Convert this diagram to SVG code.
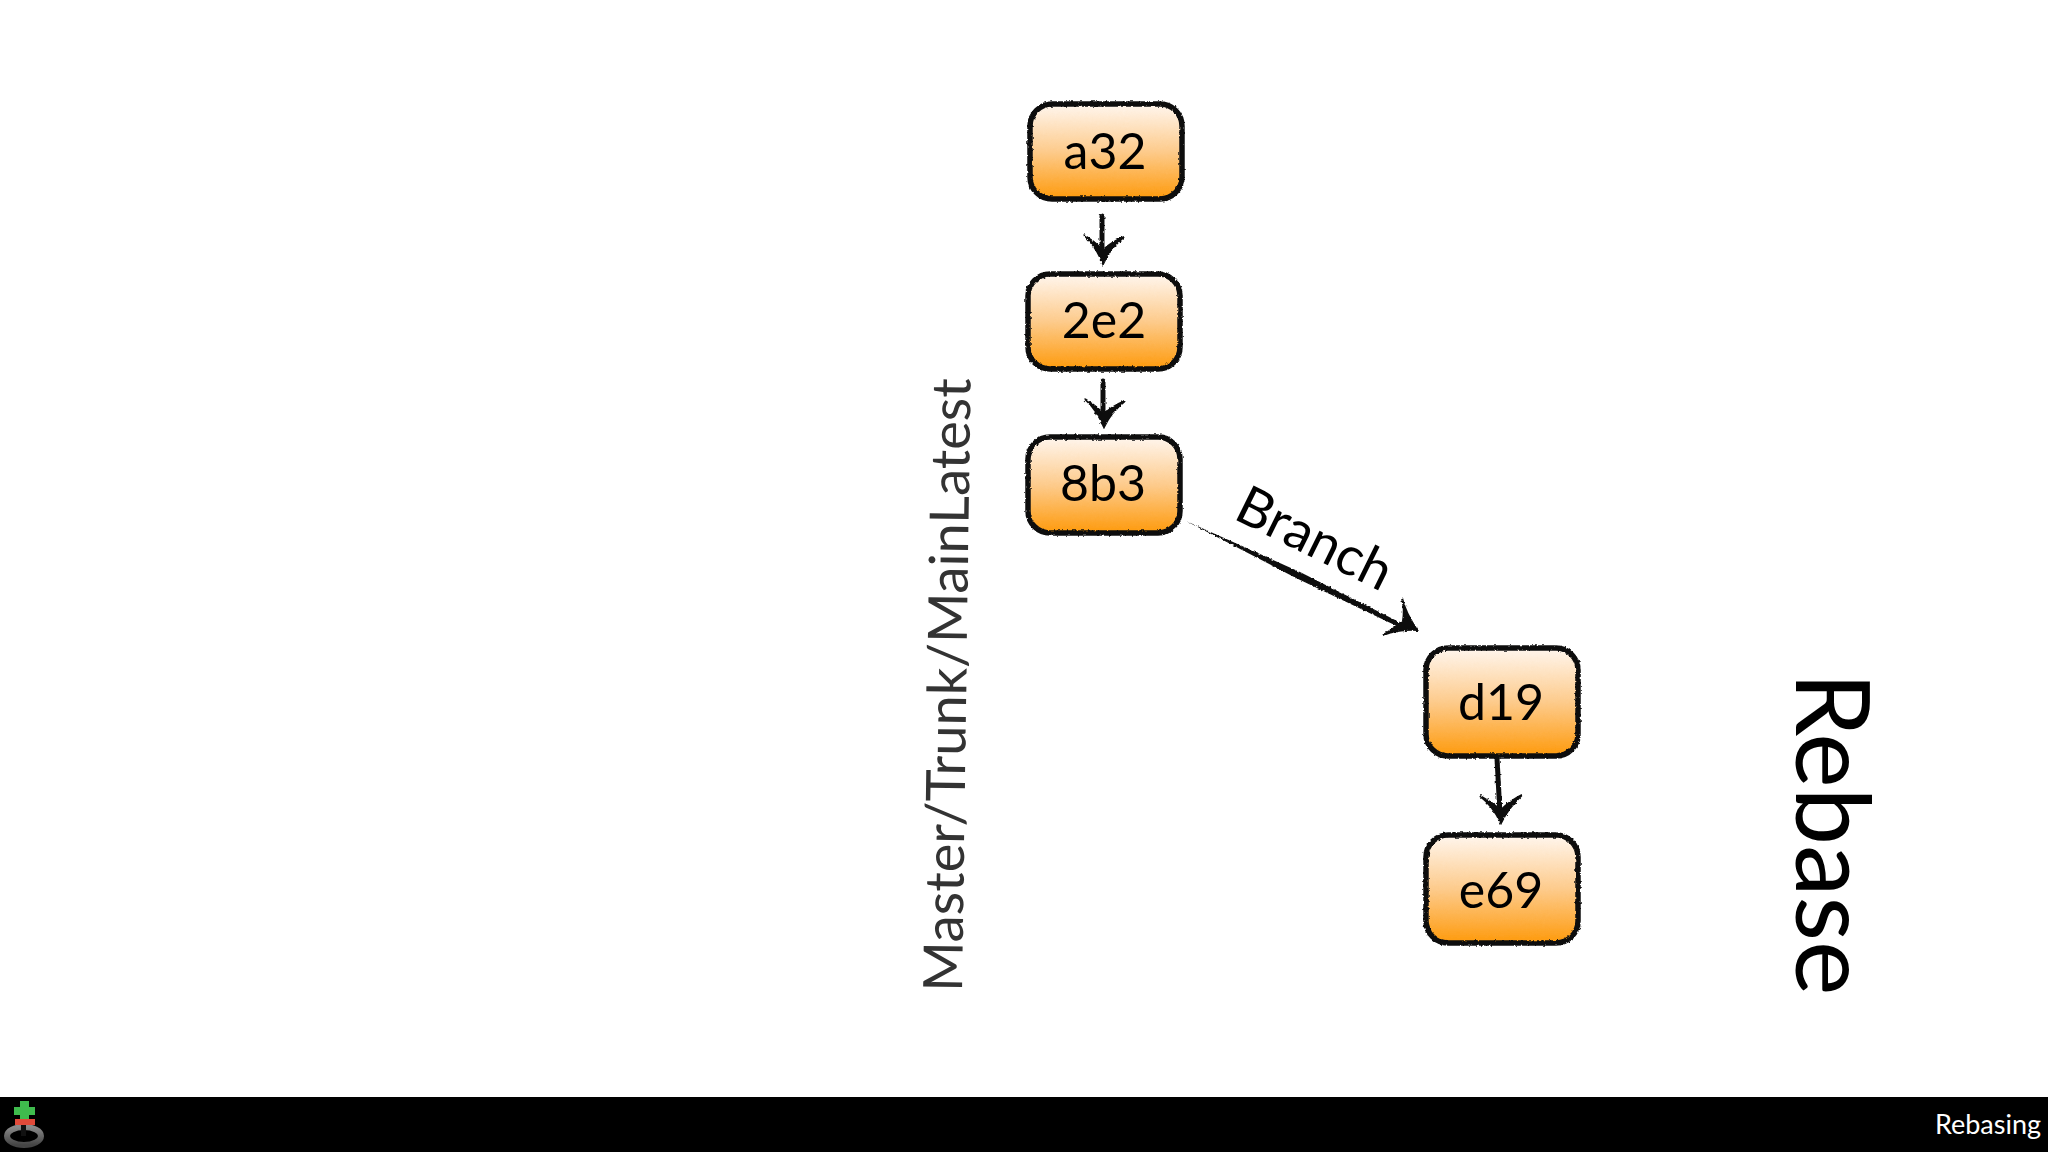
<svg xmlns="http://www.w3.org/2000/svg" width="2048" height="1152" viewBox="0 0 2048 1152">
<style>
.box{fill:url(#g);stroke:#111;stroke-width:5.5;filter:url(#rough)}
.lbl{font-family:Lato,"Open Sans",sans-serif;font-size:50px;fill:#000;text-anchor:middle}
.ln{fill:none;stroke:#111;stroke-width:5;stroke-linecap:round;filter:url(#rough)}
.hd{fill:#111;stroke:#111;stroke-width:2;filter:url(#rough)}
</style>
<defs>
<linearGradient id="g" x1="0" y1="0" x2="0" y2="1"><stop offset="0" stop-color="#fff6ee"/><stop offset=".5" stop-color="#fdcb8c"/><stop offset="1" stop-color="#fe9a0c"/></linearGradient>
<linearGradient id="rg" x1="0" y1="0" x2="0" y2="1"><stop offset="0" stop-color="#8a8a8a"/><stop offset="1" stop-color="#444"/></linearGradient>
<filter id="rough" filterUnits="userSpaceOnUse" x="0" y="0" width="2048" height="1152"><feTurbulence type="fractalNoise" baseFrequency=".35" numOctaves="2" seed="4"/><feDisplacementMap in="SourceGraphic" scale="3" xChannelSelector="R" yChannelSelector="G"/></filter>
</defs>
<rect width="2048" height="1152" fill="#fff"/>
<g id="connectors">
<path class="ln" d="M1102 216V258"/><path class="hd" d="M1084 235Q1096 246 1103 264Q1110 248 1124 237Q1112 242 1103 250Q1094 241 1084 235Z"/>
<path class="ln" d="M1103 381V422"/><path class="hd" d="M1085 399Q1097 410 1104 427Q1111 412 1125 401Q1113 406 1104 414Q1095 405 1085 399Z"/>
<path d="M1186 521L1300 572L1405 625L1403 629L1296 578Z" fill="#111" filter="url(#rough)"/><path class="hd" d="M1402 598Q1405 612 1417 630Q1400 629 1383 635Q1395 628 1403 621Q1405 610 1402 598Z"/>
<path class="ln" d="M1497 758L1500 815"/><path class="hd" d="M1480 796Q1493 806 1501 823Q1508 808 1522 795Q1510 801 1501 810Q1491 802 1480 796Z"/>
</g>
<g id="n-a32"><rect class="box" x="1030" y="104" width="152" height="95" rx="22"/><text class="lbl" x="1105" y="169">a32</text></g>
<g id="n-2e2"><rect class="box" x="1028" y="274" width="152" height="95" rx="22"/><text class="lbl" x="1104" y="338">2e2</text></g>
<g id="n-8b3"><rect class="box" x="1028" y="437" width="152" height="96" rx="22"/><text class="lbl" x="1103" y="501">8b3</text></g>
<g id="n-d19"><rect class="box" x="1426" y="648" width="152" height="108" rx="22"/><text class="lbl" x="1501" y="720">d19</text></g>
<g id="n-e69"><rect class="box" x="1426" y="835" width="152" height="108" rx="22"/><text class="lbl" x="1501" y="908">e69</text></g>
<text transform="translate(1232 518) rotate(26.3)" font-family="Lato,sans-serif" font-size="54" fill="#000">Branch</text>
<text transform="translate(962 992) rotate(-89.2)" font-family="Lato,sans-serif" font-size="54.3" fill="#333">Master/Trunk/MainLatest</text>
<text transform="translate(1796 672) rotate(90)" font-family="Lato,sans-serif" font-size="103" fill="#000">Rebase</text>
<rect y="1097" width="2048" height="55" fill="#000"/>
<g id="icon">
<ellipse cx="24" cy="1136" rx="17" ry="9" fill="none" stroke="url(#rg)" stroke-width="6"/>
<rect x="21" y="1125" width="5" height="11" fill="#111"/>
<rect x="15" y="1119" width="20" height="6" fill="#e04a3a"/>
<path d="M20 1101h9v6h6v8h-6v4h-9v-4h-6v-8h6z" fill="#3fbb4d"/>
</g>
<text x="2041" y="1134" text-anchor="end" font-family="Lato,sans-serif" font-size="27" fill="#fff">Rebasing</text>
</svg>
